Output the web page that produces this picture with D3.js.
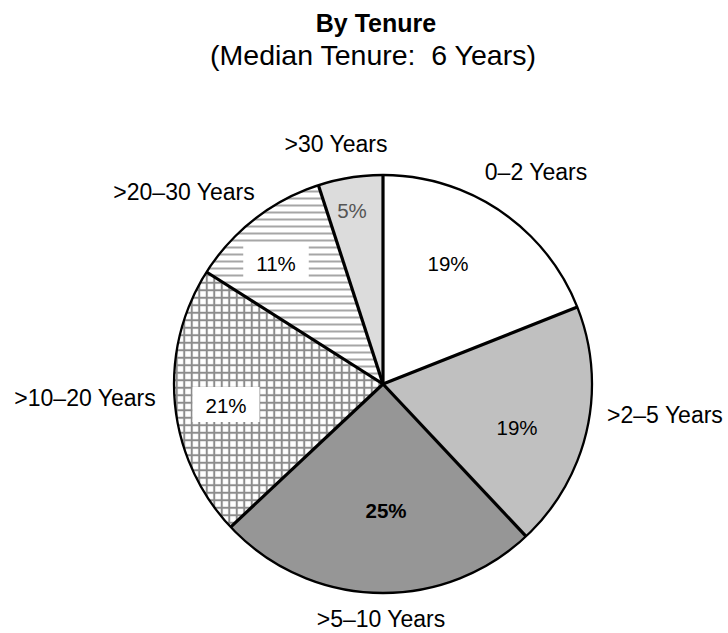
<!DOCTYPE html>
<html>
<head>
<meta charset="utf-8">
<script src="https://cdn.jsdelivr.net/npm/d3@7"></script>
<style>
  html, body { margin: 0; padding: 0; background: #fff; }
  svg { display: block; }
  text { font-family: "Liberation Sans", Arial, sans-serif; }
</style>
</head>
<body>
<svg id="chart" width="728" height="633"></svg>
<script>
// ---- data ----
const categories = ["0\u20132 Years", ">2\u20135 Years", ">5\u201310 Years", ">10\u201320 Years", ">20\u201330 Years", ">30 Years"];
const values = [19, 19, 25, 21, 11, 5];
const pctLabels = ["19%", "19%", "25%", "21%", "11%", "5%"];
const title = "By Tenure";
const subtitle = "(Median Tenure:  6 Years)";

// ---- layout / style ----
const W = 728, H = 633;
const cx = 383, cy = 384, R = 209;
const fills = ["#ffffff", "#c0c0c0", "#969696", "url(#grid)", "url(#hlines)", "#dcdcdc"];
const pctColor = ["#000", "#000", "#000", "#000", "#000", "#555"];
const pctWeight = ["normal", "normal", "bold", "normal", "normal", "normal"];
const pctBox = [false, false, false, true, true, false];
// offsets from the pie centre (label centre x, baseline y)
const outerOff = [[153, -204], [282, 39], [-2, 243], [-298, 22], [-199, -184], [-47, -232]];
const pctOff = [[65, -113], [134, 51], [3, 134], [-157, 29], [-107, -113], [-31, -166]];

const svg = d3.select("#chart");
const defs = svg.append("defs");

// horizontal line pattern
const hp = defs.append("pattern").attr("id", "hlines").attr("patternUnits", "userSpaceOnUse")
  .attr("width", 7).attr("height", 7);
hp.append("rect").attr("width", 7).attr("height", 7).attr("fill", "#fff");
hp.append("rect").attr("x", 0).attr("y", 2.5).attr("width", 7).attr("height", 2).attr("fill", "#a6a6a6");

// grid pattern
const gp = defs.append("pattern").attr("id", "grid").attr("patternUnits", "userSpaceOnUse")
  .attr("width", 7.5).attr("height", 7.5);
gp.append("rect").attr("width", 7.5).attr("height", 7.5).attr("fill", "#fff");
gp.append("rect").attr("x", 0).attr("y", 2.75).attr("width", 7.5).attr("height", 2).attr("fill", "#8c8c8c");
gp.append("rect").attr("x", 2.75).attr("y", 0).attr("width", 2).attr("height", 7.5).attr("fill", "#8c8c8c");

// titles
svg.append("text").attr("x", 376).attr("y", 32).attr("text-anchor", "middle")
  .attr("font-size", 25).attr("font-weight", "bold").attr("fill", "#000").text(title);
svg.append("text").attr("x", 373).attr("y", 65).attr("text-anchor", "middle")
  .attr("font-size", 28.5).attr("fill", "#000").style("white-space", "pre").text(subtitle);

// pie
const pie = d3.pie().sort(null).value(d => d).startAngle(0).endAngle(2 * Math.PI);
const arcs = pie(values);
const arc = d3.arc().innerRadius(0).outerRadius(R);

const g = svg.append("g").attr("transform", `translate(${cx},${cy})`);

g.selectAll("path.slice").data(arcs).enter().append("path")
  .attr("class", "slice")
  .attr("d", arc)
  .attr("fill", (d, i) => fills[i])
  .attr("stroke", "none");

// outer arc outline
g.append("circle").attr("r", R).attr("fill", "none").attr("stroke", "#000").attr("stroke-width", 2.3);

// radial separators
g.selectAll("line.sep").data(arcs).enter().append("line")
  .attr("class", "sep")
  .attr("x1", 0).attr("y1", 0)
  .attr("x2", d => R * Math.sin(d.startAngle))
  .attr("y2", d => -R * Math.cos(d.startAngle))
  .attr("stroke", "#000").attr("stroke-width", 3.2).attr("stroke-linecap", "butt");

// percentage labels
const pl = g.selectAll("g.pct").data(arcs).enter().append("g").attr("class", "pct");
pl.each(function (d, i) {
  const sel = d3.select(this);
  const t = sel.append("text")
    .attr("x", pctOff[i][0]).attr("y", pctOff[i][1])
    .attr("text-anchor", "middle")
    .attr("font-size", 20.5)
    .attr("font-weight", pctWeight[i])
    .attr("fill", pctColor[i])
    .text(pctLabels[i]);
  if (pctBox[i]) {
    const bb = t.node().getBBox();
    sel.insert("rect", "text")
      .attr("x", bb.x - 13).attr("y", bb.y - 7)
      .attr("width", bb.width + 26).attr("height", bb.height + 12)
      .attr("fill", "#fff");
  }
});

// category labels
g.selectAll("text.cat").data(arcs).enter().append("text")
  .attr("class", "cat")
  .attr("x", (d, i) => outerOff[i][0]).attr("y", (d, i) => outerOff[i][1])
  .attr("text-anchor", "middle")
  .attr("font-size", 23)
  .attr("fill", "#000")
  .text((d, i) => categories[i]);
</script>
</body>
</html>
